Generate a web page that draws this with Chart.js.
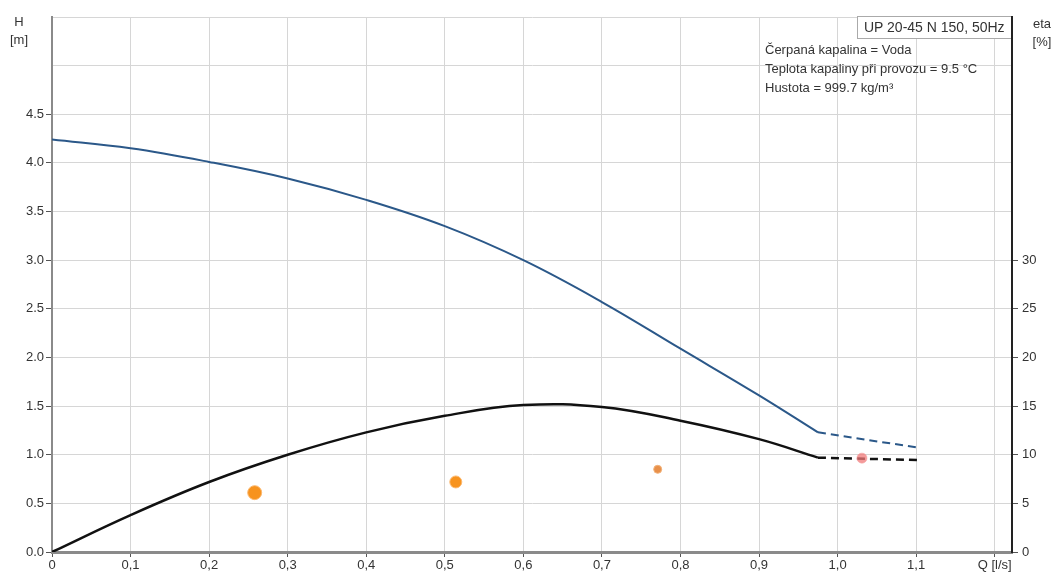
<!DOCTYPE html>
<html>
<head>
<meta charset="utf-8">
<script src="https://cdn.jsdelivr.net/npm/chart.js@4.4.1/dist/chart.umd.min.js"></script>
<style>
  body { margin: 0; background: #fff; font-family: "Liberation Sans", Arial, sans-serif; color: #333; }
  #wrap { position: relative; width: 1057px; height: 574px; }
  .lbl { position: absolute; font-size: 13px; color: #333; text-align: center; line-height: 18px; }
  #pumpbox { position: absolute; left: 857px; top: 16px; width: 147px; height: 21px; border: 1px solid #aaa;
             border-right: none; background: #fff; font-size: 14px; line-height: 21px; padding-left: 6px; color: #333; }
  #info { position: absolute; left: 765px; top: 40px; font-size: 13px; line-height: 19px; color: #333; }
</style>
</head>
<body>
<div id="wrap">
  <canvas id="pumpchart"></canvas>
  <div class="lbl" style="left:5px;top:13px;width:28px;">H<br>[m]</div>
  <div class="lbl" style="left:1028px;top:15px;width:28px;">eta<br>[%]</div>
  <div id="pumpbox">UP 20-45 N 150, 50Hz</div>
  <div id="info">Čerpaná kapalina = Voda<br>Teplota kapaliny při provozu = 9.5 °C<br>Hustota = 999.7 kg/m³</div>
</div>
<script>
// pump head curve H [m] vs flow Q [l/s]
const headQ = [0, 0.1, 0.2, 0.3, 0.4, 0.5, 0.6, 0.7, 0.8, 0.9, 0.975];
const headH = [4.24, 4.15, 4.01, 3.84, 3.62, 3.35, 3.00, 2.57, 2.09, 1.61, 1.23];
const headDashQ = [0.975, 1.105];
const headDashH = [1.23, 1.07];

// efficiency curve eta [%]
const etaQ = [0, 0.1, 0.2, 0.3, 0.4, 0.5, 0.6, 0.7, 0.8, 0.9, 0.975];
const etaVal = [0, 3.8, 7.2, 10.0, 12.3, 14.0, 15.1, 14.9, 13.5, 11.6, 9.7];
const etaDashQ = [0.975, 1.105];
const etaDashVal = [9.7, 9.45];

// duty points (on H axis)
const dotQ = [0.258, 0.514, 0.771, 1.031];
const dotH = [0.61, 0.72, 0.85, 0.965];
const dotSize = [7, 6, 4, 5];
const dotColor = ['#f7931e', '#f7931e', '#e8904a', 'rgba(240,120,120,0.75)'];

const toXY = (xs, ys) => xs.map((x, i) => ({ x: x, y: ys[i] }));
const fmt = v => Math.round(v * 10) / 10;

const data = {
  datasets: [
    {
      label: 'body',
      data: toXY(dotQ, dotH),
      yAxisID: 'y',
      showLine: false,
      pointRadius: dotSize,
      pointBackgroundColor: dotColor,
      pointBorderColor: ['#fbb870', '#fbb870', '#f2b27a', 'rgba(245,160,160,0.6)'],
      pointBorderWidth: 1
    },
    {
      label: 'H',
      data: toXY(headQ, headH),
      yAxisID: 'y',
      showLine: true,
      borderColor: '#2b5889',
      borderWidth: 2,
      pointRadius: 0,
      tension: 0.4
    },
    {
      label: 'H dash',
      data: toXY(headDashQ, headDashH),
      yAxisID: 'y',
      showLine: true,
      borderColor: '#2b5889',
      borderWidth: 2,
      borderDash: [8, 5],
      pointRadius: 0
    },
    {
      label: 'eta',
      data: toXY(etaQ, etaVal),
      yAxisID: 'y2',
      showLine: true,
      borderColor: '#111',
      borderWidth: 2.5,
      pointRadius: 0,
      tension: 0.4
    },
    {
      label: 'eta dash',
      data: toXY(etaDashQ, etaDashVal),
      yAxisID: 'y2',
      showLine: true,
      borderColor: '#111',
      borderWidth: 2.5,
      borderDash: [8, 5],
      pointRadius: 0
    }
  ]
};

const tickFont = { family: '"Liberation Sans", Arial, sans-serif', size: 13 };

const options = {
  responsive: true,
  maintainAspectRatio: false,
  animation: false,
  layout: { padding: { top: 17, left: 0, right: 0, bottom: 0 } },
  plugins: { legend: { display: false }, tooltip: { enabled: false } },
  scales: {
    x: {
      type: 'linear',
      min: 0,
      max: 1.222,
      afterFit: s => { s.height = 22; },
      ticks: {
        stepSize: 0.1,
        includeBounds: false,
        autoSkip: false,
        maxRotation: 0,
        color: '#333',
        font: tickFont,
        padding: 1,
        callback: v => {
          const r = fmt(v);
          if (r === 1.2) return 'Q [l/s]';
          return r === 0 ? '0' : r.toFixed(1).replace('.', ',');
        }
      },
      grid: { color: '#d6d6d6', lineWidth: 1, tickLength: 5, tickColor: '#555' },
      border: { color: '#8a8a8a', width: 3 }
    },
    y: {
      position: 'left',
      min: 0,
      max: 5.5,
      afterFit: s => { s.width = 52; },
      ticks: {
        stepSize: 0.5,
        color: '#333',
        font: tickFont,
        padding: 2,
        callback: v => (v > 4.5 ? '' : v.toFixed(1))
      },
      grid: {
        color: '#d6d6d6',
        lineWidth: 1,
        tickLength: 6,
        tickColor: ctx => (ctx.tick && ctx.tick.value > 4.5 ? 'rgba(0,0,0,0)' : '#555')
      },
      border: { color: '#8a8a8a', width: 2 }
    },
    y2: {
      position: 'right',
      min: 0,
      max: 55,
      afterFit: s => { s.width = 45; },
      afterBuildTicks: s => { s.ticks = s.ticks.filter(t => t.value <= 30); },
      ticks: {
        stepSize: 5,
        color: '#333',
        font: tickFont,
        padding: 4
      },
      grid: { drawOnChartArea: false, tickLength: 6, tickColor: '#555' },
      border: { color: '#222', width: 2 }
    }
  }
};

const pumpChart = new Chart(document.getElementById('pumpchart'), {
  type: 'scatter',
  data: data,
  options: options
});
</script>
</body>
</html>
